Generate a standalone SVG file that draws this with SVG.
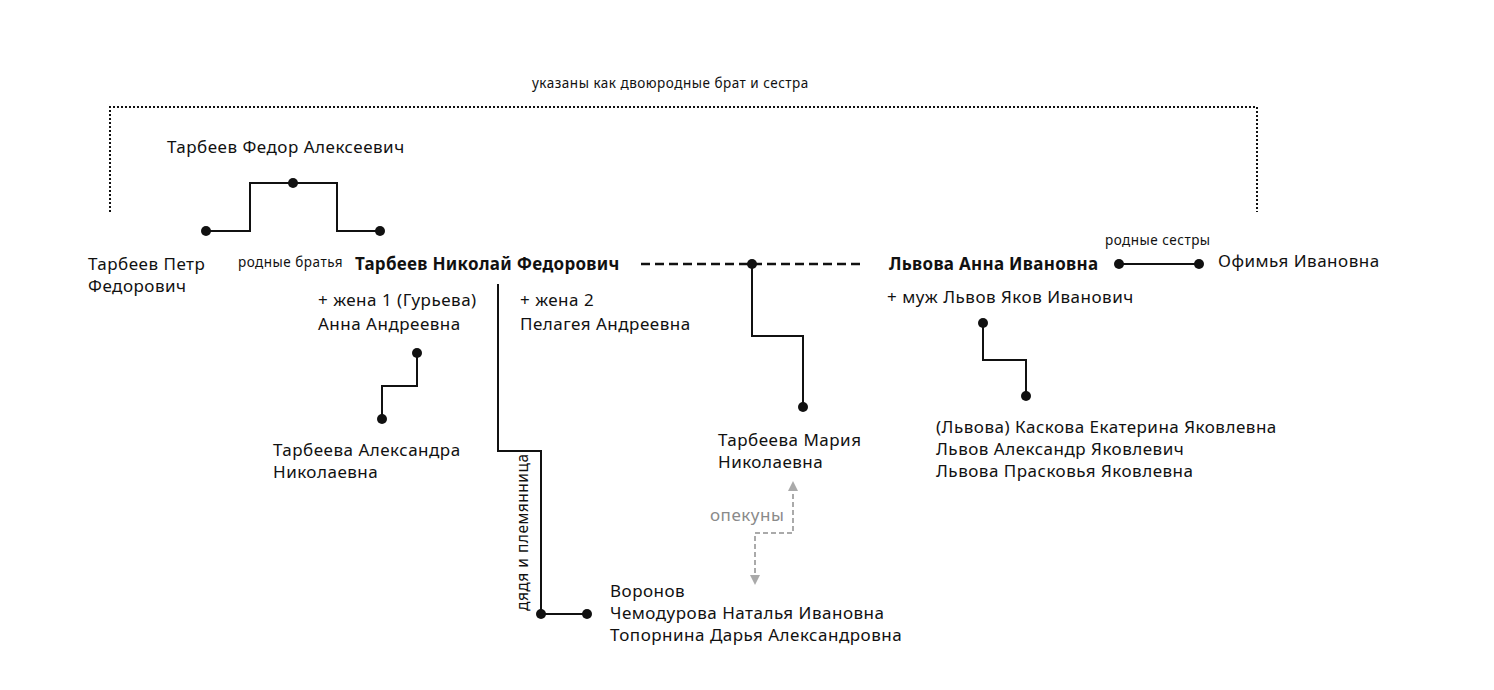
<svg xmlns="http://www.w3.org/2000/svg" width="1494" height="690" viewBox="0 0 1494 690">
<style>
text{font-family:"Noto Sans","DejaVu Sans",sans-serif;fill:#111;font-size:17px;letter-spacing:0.5px}
.b{font-weight:bold;letter-spacing:0.3px}
.s{font-size:13.5px}
.r{font-size:15.5px}
.g{fill:#8a8a8a}
.ln{fill:none;stroke:#111;stroke-width:2}
.dot{fill:#111}
.dt{fill:none;stroke:#111;stroke-width:2;stroke-dasharray:2 2}
.ds{fill:none;stroke:#111;stroke-width:2.5;stroke-dasharray:9 5}
.gr{fill:none;stroke:#aaa;stroke-width:2;stroke-dasharray:5 3}
</style>
<defs>
<marker id="ga" viewBox="0 0 10 10" refX="5" refY="5" markerWidth="5" markerHeight="5" orient="auto-start-reverse"><path d="M0,0 L10,5 L0,10 z" fill="#aaa"/></marker>
</defs>
<g id="connectors">
<path class="dt" d="M110,212 V107 H1257 V212"/>
<path class="ln" d="M206,231 H250 V183 H337 V231 H380"/>
<circle class="dot" cx="206" cy="231" r="5"/><circle class="dot" cx="293" cy="183" r="5"/><circle class="dot" cx="380" cy="231" r="5"/>
<path class="ds" d="M641,264 H862"/>
<path class="ln" d="M752,264 V336 H803 V407"/>
<circle class="dot" cx="752" cy="264" r="5"/><circle class="dot" cx="803" cy="407" r="5"/>
<path class="ln" d="M417,353 V386 H382 V419"/>
<circle class="dot" cx="417" cy="353" r="5"/><circle class="dot" cx="382" cy="419" r="5"/>
<path class="ln" d="M498,284 V451 H541 V614 H587"/>
<circle class="dot" cx="541" cy="614" r="5"/><circle class="dot" cx="587" cy="614" r="5"/>
<path class="gr" d="M793,486 V533 H755 V580" marker-start="url(#ga)" marker-end="url(#ga)"/>
<path class="ln" d="M1119,264 H1199"/>
<circle class="dot" cx="1119" cy="264" r="5"/><circle class="dot" cx="1199" cy="264" r="5"/>
<path class="ln" d="M983,323 V360 H1026 V396"/>
<circle class="dot" cx="983" cy="323" r="5"/><circle class="dot" cx="1026" cy="396" r="5"/>
<text class="s" x="532" y="88">указаны как двоюродные брат и сестра</text>
<text class="s" x="238" y="267">родные братья</text>
<text class="s" x="1105" y="245">родные сестры</text>
<text class="g" x="710" y="521">опекуны</text>
<text class="r" transform="translate(528,611) rotate(-90)">дядя и племянница</text>
</g>
<g id="fedor"><text x="167" y="153">Тарбеев Федор Алексеевич</text></g>
<g id="petr"><text x="88" y="270">Тарбеев Петр</text><text x="88" y="292">Федорович</text></g>
<g id="nikolay"><text class="b" x="355" y="270">Тарбеев Николай Федорович</text></g>
<g id="wife1"><text x="318" y="306">+ жена 1 (Гурьева)</text><text x="318" y="330">Анна Андреевна</text></g>
<g id="wife2"><text x="520" y="306">+ жена 2</text><text x="520" y="330">Пелагея Андреевна</text></g>
<g id="alexandra"><text x="273" y="456">Тарбеева Александра</text><text x="273" y="478">Николаевна</text></g>
<g id="maria"><text x="718" y="446">Тарбеева Мария</text><text x="718" y="468">Николаевна</text></g>
<g id="guardians"><text x="610" y="597">Воронов</text><text x="610" y="619">Чемодурова Наталья Ивановна</text><text x="610" y="641">Топорнина Дарья Александровна</text></g>
<g id="anna"><text class="b" x="889" y="270">Львова Анна Ивановна</text></g>
<g id="husband"><text x="887" y="303">+ муж Львов Яков Иванович</text></g>
<g id="ofimya"><text x="1218" y="267">Офимья Ивановна</text></g>
<g id="lvov-children"><text x="936" y="433">(Львова) Каскова Екатерина Яковлевна</text><text x="936" y="455">Львов Александр Яковлевич</text><text x="936" y="477">Львова Прасковья Яковлевна</text></g>
</svg>
